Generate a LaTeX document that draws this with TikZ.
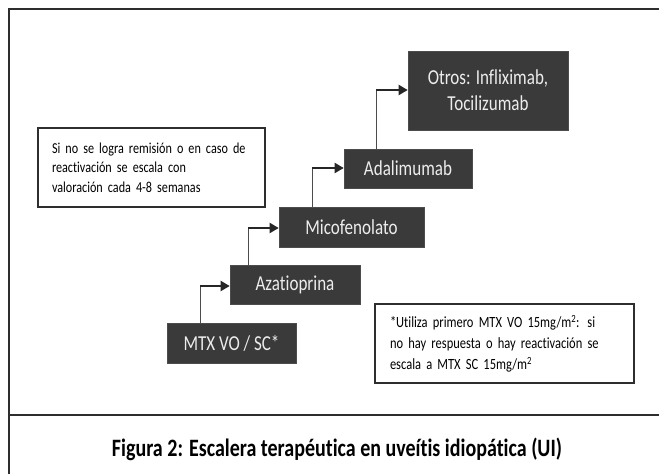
\documentclass[tikz,border=0pt]{standalone}
\usepackage{fontspec}
\setmainfont{Carlito}[FakeStretch=0.8,Ligatures=NoCommon]
\usetikzlibrary{arrows.meta}

\definecolor{stepfill}{HTML}{3A3A3A}
\definecolor{steptext}{HTML}{EDEDED}
\definecolor{framegray}{HTML}{2E2E2E}

\begin{document}
\begin{tikzpicture}[x=1pt,y=-1pt,
    stepbox/.style={draw=gray!60!black,fill=stepfill,text=steptext,line width=0.6pt,
      font=\fontsize{21.3}{26}\selectfont,align=center,inner sep=0pt},
    notebox/.style={draw=framegray,line width=1.4pt,fill=white,align=left,
      inner sep=0pt,font=\fontsize{15.2}{19.7}\selectfont},
    riser/.style={draw=black!70,line width=0.8pt},
    tread/.style={draw=black!85,line width=2pt,-{Triangle[length=9pt,width=10pt]}}]
  \useasboundingbox (0,0) rectangle (659,474);
  % outer frame and caption strip
  \draw[framegray,line width=1.6pt] (9,474) -- (9,9) -- (659,9);
  \draw[framegray,line width=1.6pt] (9,415) -- (659,415);
  \node (caption) at (337,449) {\bfseries\fontsize{25}{28}\selectfont Figura 2: Escalera terapéutica en uveítis idiopática (UI)};
  % the steps
  \node [stepbox,minimum width=129pt,minimum height=40pt] (mtx) at (231.5,343) {MTX VO / SC*};
  \node [stepbox,minimum width=130pt,minimum height=39pt] (aza) at (295,284.5) {Azatioprina};
  \node [stepbox,minimum width=145pt,minimum height=40pt] (mico) at (351.5,227) {Micofenolato};
  \node [stepbox,minimum width=128pt,minimum height=39pt] (adal) at (408,168.5) {Adalimumab};
  \node [stepbox,minimum width=160pt,minimum height=79pt] (otros) at (488,90.5) {Otros: Infliximab,\\Tocilizumab};
  % notes
  \node [notebox,minimum width=227pt,minimum height=79pt,text width=199pt] (remision) at (151.5,167.5)
    {Si no se logra remisión o en caso de\\reactivación se escala con\\valoración cada 4-8 semanas};
  \node [notebox,minimum width=259pt,minimum height=79pt,text width=229pt,font=\fontsize{15.6}{21}\selectfont] (mtxnote) at (504.5,343.5)
    {*Utiliza primero MTX VO 15mg/m\textsuperscript{2}: si\\no hay respuesta o hay reactivación se\\escala a MTX SC 15mg/m\textsuperscript{2}};
  % bends of the stair
  \coordinate (b1) at (200,286);
  \coordinate (b2) at (248,228);
  \coordinate (b3) at (312,168);
  \coordinate (b4) at (376,90);
  \draw[riser] (b1 |- mtx.north) -- (b1);
  \draw[tread] (b1) -- (b1 -| aza.west);
  \draw[riser] (b2 |- aza.north) -- (b2);
  \draw[tread] (b2) -- (b2 -| mico.west);
  \draw[riser] (b3 |- mico.north) -- (b3);
  \draw[tread] (b3) -- (b3 -| adal.west);
  \draw[riser] (b4 |- adal.north) -- (b4);
  \draw[tread] (b4) -- (b4 -| otros.west);
\end{tikzpicture}
\end{document}
